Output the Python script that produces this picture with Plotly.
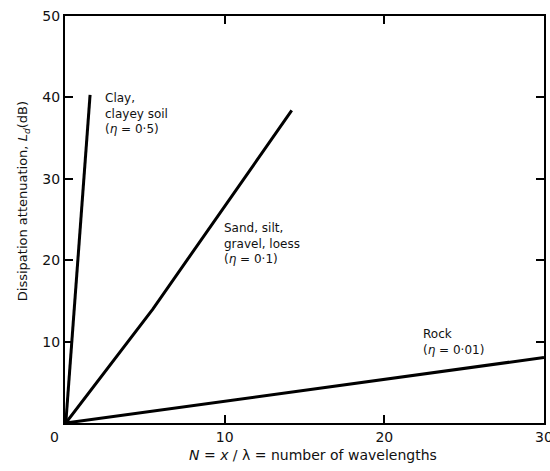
import plotly.graph_objects as go

# Data
clay_x = [0.05, 1.57]
clay_y = [0.0, 40.3]
sand_x = [0.05, 5.5, 14.2]
sand_y = [0.0, 14.0, 38.4]
rock_x = [0.05, 30.0]
rock_y = [0.0, 8.05]

x_ticks = [0, 10, 20, 30]
x_tick_text = ["0\u2002\u2002\u2002", "10", "20", "30"]
y_ticks = [10, 20, 30, 40, 50]
y_tick_text = ["10", "20", "30", "40", "50"]

labels = [
    ("Clay,<br>clayey soil<br>(<i>η</i> = 0·5)", 2.4, 41.0),
    ("Sand, silt,<br>gravel, loess<br>(<i>η</i> = 0·1)", 9.85, 25.1),
    ("Rock<br>(<i>η</i> = 0·01)", 22.3, 12.0),
]

x_title = "<i>N</i> = <i>x</i> / λ = number of wavelengths"
y_title = "Dissipation attenuation, <i>L</i><sub><i>d</i></sub>(dB)"

FONT = "DejaVu Sans"

fig = go.Figure()
for xs, ys in [(clay_x, clay_y), (sand_x, sand_y), (rock_x, rock_y)]:
    fig.add_trace(go.Scatter(x=xs, y=ys, mode="lines",
                             line=dict(color="black", width=3),
                             showlegend=False, hoverinfo="skip"))

for text, x, y in labels:
    fig.add_annotation(x=x, y=y, text=text, showarrow=False,
                       xanchor="left", yanchor="top", align="left",
                       font=dict(family=FONT, size=12, color="#111"))

fig.add_annotation(x=0.518, y=0, xref="paper", yref="paper", text=x_title,
                   showarrow=False, xanchor="center", yanchor="middle",
                   yshift=-32, font=dict(family=FONT, size=14, color="#111"))
fig.add_annotation(x=0, y=0.545, xref="paper", yref="paper", text=y_title,
                   showarrow=False, xanchor="center", yanchor="middle",
                   textangle=-90, xshift=-42,
                   font=dict(family=FONT, size=13, color="#111"))

fig.update_layout(
    width=550, height=471,
    margin=dict(l=65, r=6, t=16, b=48, autoexpand=False),
    plot_bgcolor="white", paper_bgcolor="white",
    font=dict(family=FONT, size=14, color="#111"),
)
fig.update_xaxes(
    range=[0, 30], tickvals=x_ticks, ticktext=x_tick_text,
    ticks="inside", ticklen=8, tickwidth=1.5, tickcolor="black",
    showline=True, linecolor="black", linewidth=2, mirror="ticks",
    showgrid=False, zeroline=False, automargin=False,
    ticklabeloverflow="allow",
    tickfont=dict(family=FONT, size=14),
)
fig.update_yaxes(
    range=[0, 50], tickvals=y_ticks, ticktext=y_tick_text,
    ticks="inside", ticklen=8, tickwidth=1.5, tickcolor="black",
    showline=True, linecolor="black", linewidth=2, mirror="ticks",
    showgrid=False, zeroline=False, automargin=False,
    tickfont=dict(family=FONT, size=14),
)

fig.write_html("out.html",
               config={"displayModeBar": False},
               post_script="document.body.style.margin='0';")
